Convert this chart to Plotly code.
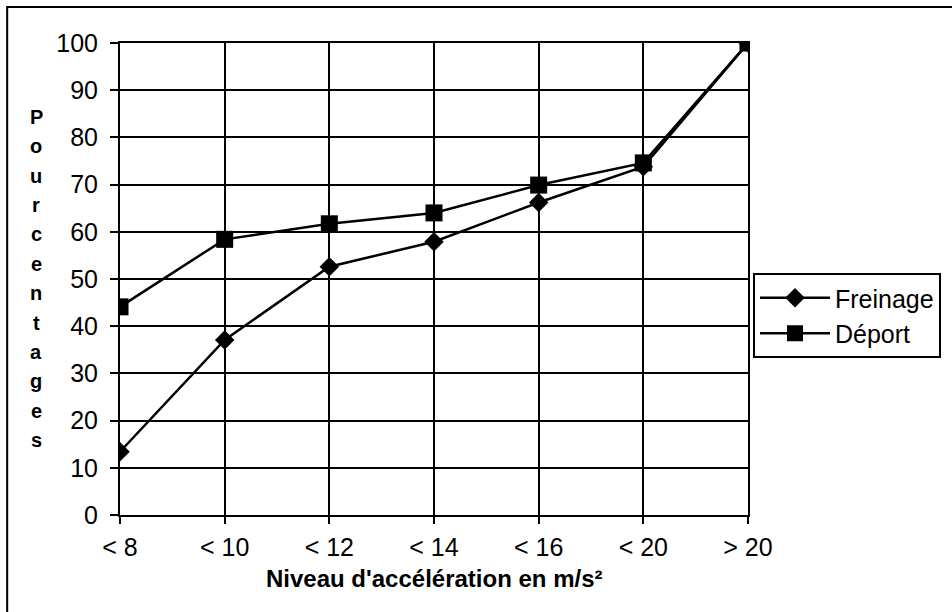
import plotly.graph_objects as go

categories = ["< 8", "< 10", "< 12", "< 14", "< 16", "< 20", "> 20"]
freinage = [13.4, 37.1, 52.6, 57.9, 66.2, 73.8, 100]
deport = [44.1, 58.4, 61.7, 64.0, 69.9, 74.6, 100]
y_ticks = [0, 10, 20, 30, 40, 50, 60, 70, 80, 90, 100]
y_title_letters = list("Pourcentages")
x_title = "Niveau d'accélération en m/s²"

FONT = "Liberation Sans, Arial, sans-serif"
W, H = 952, 612
L, R, T, B = 120, 203, 43, 97
pw, ph = W - L - R, H - T - B

def px_x(px):
    return (px - L) / pw

def px_y(py):
    return (H - B - py) / ph

fig = go.Figure()
fig.add_trace(go.Scatter(
    x=categories, y=freinage, name="Freinage", mode="lines+markers",
    line=dict(color="black", width=2.5),
    marker=dict(symbol="diamond", size=15, color="black"),
))
fig.add_trace(go.Scatter(
    x=categories, y=deport, name="Déport", mode="lines+markers",
    line=dict(color="black", width=2.5),
    marker=dict(symbol="square", size=17, color="black"),
))

annotations = []
n = len(y_title_letters)
y0, y1 = 117, 440
for i, ch in enumerate(y_title_letters):
    py = y0 + (y1 - y0) * i / (n - 1)
    annotations.append(dict(
        text=f"<b>{ch}</b>", x=px_x(36), y=px_y(py), xref="paper", yref="paper",
        showarrow=False, xanchor="center", yanchor="middle",
        font=dict(family=FONT, size=20, color="black"),
    ))
annotations.append(dict(
    text=f"<b>{x_title}</b>", x=0.5, y=px_y(578), xref="paper", yref="paper",
    showarrow=False, xanchor="center", yanchor="middle",
    font=dict(family=FONT, size=24, color="black"),
))

fig.update_layout(
    width=W, height=H,
    margin=dict(l=L, r=R, t=T, b=B, pad=0),
    paper_bgcolor="white", plot_bgcolor="white",
    font=dict(family=FONT, size=25, color="black"),
    showlegend=True,
    legend=dict(
        x=px_x(753), y=px_y(273), xanchor="left", yanchor="top",
        bordercolor="black", borderwidth=2, bgcolor="white",
        font=dict(family=FONT, size=25, color="black"),
        itemwidth=70, tracegroupgap=0,
    ),
    annotations=annotations,
    shapes=[dict(
        type="rect", xref="paper", yref="paper",
        x0=px_x(7), y0=px_y(7), x1=px_x(970), y1=px_y(640),
        line=dict(color="black", width=2), fillcolor="rgba(0,0,0,0)", layer="below",
    )],
)
fig.update_xaxes(
    type="category", range=[0, len(categories) - 1],
    showgrid=True, gridcolor="black", gridwidth=1.5,
    showline=True, linecolor="black", linewidth=2, mirror=True,
    ticks="outside", ticklen=7, tickcolor="black", tickwidth=1.5,
    ticklabelstandoff=2, tickfont=dict(family=FONT, size=25, color="black"),
    zeroline=False,
)
fig.update_yaxes(
    range=[0, 100], tickvals=y_ticks,
    showgrid=True, gridcolor="black", gridwidth=1.5,
    showline=True, linecolor="black", linewidth=2, mirror=True,
    ticks="outside", ticklen=8, tickcolor="black", tickwidth=1.5,
    ticklabelstandoff=7, tickfont=dict(family=FONT, size=25, color="black"),
    zeroline=False,
)

fig.write_html("out.html")
